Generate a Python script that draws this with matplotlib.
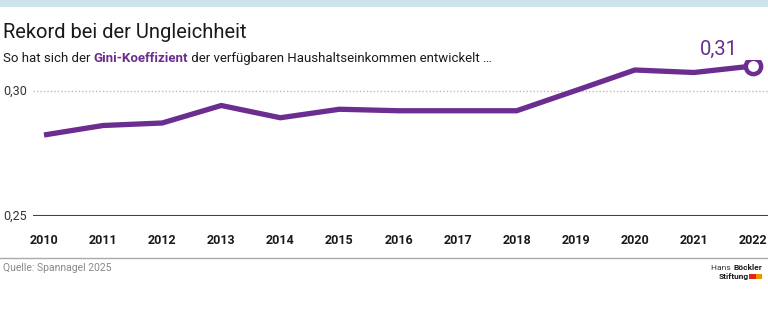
import matplotlib.pyplot as plt
from matplotlib.patches import Rectangle
from matplotlib.transforms import blended_transform_factory

years = [2010, 2011, 2012, 2013, 2014, 2015, 2016, 2017, 2018, 2019, 2020, 2021, 2022]
gini = [0.2824, 0.2862, 0.2872, 0.2942, 0.2893, 0.2927, 0.2921, 0.2921, 0.2921, 0.3002, 0.3084, 0.3074, 0.3100]
y_ticks = [0.25, 0.30]
y_labels = ["0,25", "0,30"]
end_label = "0,31"

purple = "#6b2d8f"
W, H = 768, 322
plt.rcParams['font.family'] = ['Roboto', 'DejaVu Sans']

fig = plt.figure(figsize=(W / 100, H / 100), dpi=100)
r = fig.canvas.get_renderer()

# top band
fig.add_artist(Rectangle((0, 1 - 7 / H), 1, 7 / H, transform=fig.transFigure,
                         color="#cde4ed", lw=0))

fig.text(3 / W, 1 - 38 / H, "Rekord bei der Ungleichheit", fontsize=14.5,
         color="#1a1a1a", va="baseline")


def text_run(x, y, parts, size):
    # draw consecutive text pieces, each with its own colour / weight
    for s, col, wt in parts:
        t = fig.text(x / W, y, s, fontsize=size, color=col, weight=wt,
                     va="baseline")
        x = t.get_window_extent(r).x1


text_run(3, 1 - 62 / H, [("So hat sich der ", "#1a1a1a", "normal"),
                         ("Gini-Koeffizient", purple, "bold"),
                         (" der verfügbaren Haushaltseinkommen entwickelt …",
                          "#1a1a1a", "normal")], 9.5)

ax_left, ax_right = 33, 768
ax_top, ax_bot = 60, 216
ax = fig.add_axes([ax_left / W, 1 - ax_bot / H, (ax_right - ax_left) / W,
                   (ax_bot - ax_top) / H])
px_x = (753 - 44) / (years[-1] - years[0])
ax.set_xlim(years[0] - 11 / px_x, years[-1] + 15 / px_x)
ax.set_ylim(0.25, 0.30 + (91 - ax_top) / 2500)

ax.axhline(0.30, color="#bbbbbb", lw=1, ls=(0, (1, 1.5)), zorder=1)
ax.axhline(0.25, color="#444444", lw=1.5, zorder=1)

ax.plot(years, gini, color=purple, lw=3.8, solid_joinstyle="miter",
        solid_capstyle="butt", zorder=3)
ax.plot(years[-1], gini[-1], "o", ms=11, mfc="white", mec=purple, mew=3.2,
        zorder=4)
ax.annotate(end_label, (years[-1], gini[-1]), xytext=(-11, 5),
            textcoords="offset points", ha="right", va="bottom",
            fontsize=14.5, color=purple)

for s in ax.spines.values():
    s.set_visible(False)
ax.set_yticks([])
ax.set_xticks(years)
ax.set_xticklabels([str(y) for y in years], fontsize=9, weight="bold",
                   color="#1a1a1a")
ax.tick_params(axis="x", length=0, pad=13)
ax.patch.set_alpha(0)

ytrans = blended_transform_factory(fig.transFigure, ax.transData)
for v, lab in zip(y_ticks, y_labels):
    ax.text(3 / W, v, lab, transform=ytrans, fontsize=9, color="#333333",
            va="center", ha="left")

# footer
fig.add_artist(plt.Line2D([0, 1], [1 - 258 / H] * 2, transform=fig.transFigure,
                          color="#aaaaaa", lw=1))
fig.text(3 / W, 1 - 271 / H, "Quelle: Spannagel 2025", fontsize=7.5,
         color="#888888", va="baseline")
b = fig.text(762 / W, 1 - 270 / H, "Böckler", fontsize=6, color="#1a1a1a",
             weight="bold", ha="right", va="baseline")
bx = b.get_window_extent(r).x0
fig.text(bx / W, 1 - 270 / H, "Hans ", fontsize=6, color="#333333",
         ha="right", va="baseline")
fig.text(719 / W, 1 - 279 / H, "Stiftung", fontsize=6, color="#1a1a1a",
         weight="bold", ha="left", va="baseline")
fig.add_artist(Rectangle((749 / W, 1 - 279 / H), 7 / W, 5 / H,
                         transform=fig.transFigure, color="#e2231a", lw=0))
fig.add_artist(Rectangle((756 / W, 1 - 279 / H), 6 / W, 5 / H,
                         transform=fig.transFigure, color="#f39200", lw=0))

fig.savefig("out.png", dpi=100)
